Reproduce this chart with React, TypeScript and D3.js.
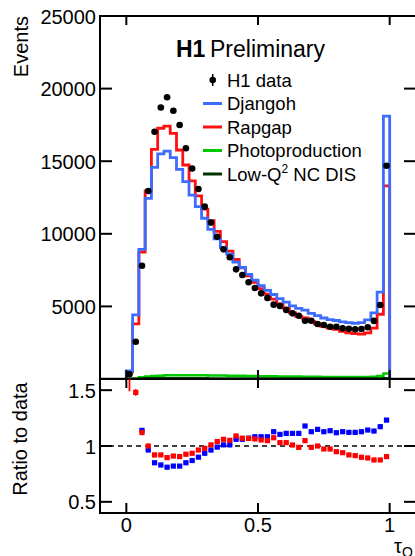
import React from "react";
import * as d3 from "d3";

// 42 bins in tau_Q from 0 to 1
const dataEvents = [
  320, 2570, 7800, 12950, 17030, 18700, 19400, 18470, 17490, 15890, 14500, 13090, 11870, 10770,
  9800, 8930, 8380, 7550, 7160, 6660, 6270, 5900, 5580, 5120, 5030, 4750, 4520, 4360,
  4010, 4010, 3790, 3720, 3600, 3600, 3490, 3460, 3420, 3440, 3560, 4000, 5100, 14690,
];

const djangoh = [
  550, 4410, 8930, 12440, 14580, 15500, 15700, 15240, 14440, 13590, 12670, 11870, 11070, 10300,
  9650, 9050, 8600, 8050, 7680, 7200, 6800, 6430, 6100, 5820, 5540, 5300, 5030, 4860,
  4740, 4520, 4360, 4200, 4090, 4030, 3940, 3880, 3840, 3880, 4070, 4560, 5990, 18100,
];

const rapgap = [
  500, 3800, 8740, 12950, 15820, 17270, 17420, 16920, 15770, 14740, 13650, 12610, 11700, 10900,
  10170, 9460, 8800, 8230, 7660, 7110, 6660, 6220, 5850, 5500, 5180, 4890, 4560, 4310,
  4200, 3960, 3790, 3620, 3500, 3420, 3280, 3180, 3130, 3090, 3180, 3500, 4460, 13300,
];

const photoproduction = [
  0, 40, 120, 170, 200, 230, 250, 260, 260, 260, 260, 255, 250, 245,
  240, 235, 230, 225, 220, 210, 200, 195, 190, 185, 180, 175, 170, 165,
  160, 155, 150, 145, 140, 140, 135, 130, 130, 130, 135, 150, 200, 380,
];

const lowQ2 = [
  0, 20, 40, 50, 55, 55, 55, 50, 50, 50, 45, 45, 45, 40,
  40, 40, 40, 35, 35, 35, 35, 30, 30, 30, 30, 30, 30, 30,
  30, 30, 30, 30, 30, 30, 30, 30, 30, 30, 30, 35, 40, 60,
];

// ratio to data
const ratioDjangoh = [
  1.9, 1.72, 1.14, 0.964, 0.85, 0.83, 0.81, 0.82, 0.82, 0.85, 0.87, 0.9, 0.935, 0.964,
  0.99, 1.01, 1.01, 1.06, 1.06, 1.07, 1.083, 1.083, 1.083, 1.128, 1.104, 1.113, 1.113, 1.113,
  1.179, 1.128, 1.149, 1.128, 1.137, 1.119, 1.128, 1.122, 1.122, 1.128, 1.143, 1.134, 1.173, 1.232,
];

const ratioRapgap = [
  1.75, 1.48, 1.12, 1.0, 0.92, 0.92, 0.896, 0.91, 0.905, 0.926, 0.935, 0.964, 0.979, 1.01,
  1.04, 1.06, 1.05, 1.09, 1.07, 1.068, 1.063, 1.054, 1.048, 1.074, 1.03, 1.03, 1.009, 0.988,
  1.048, 0.988, 1.0, 0.973, 0.973, 0.949, 0.94, 0.92, 0.914, 0.899, 0.893, 0.875, 0.875, 0.905,
];
const ratioRapgapErr = [0.26, 0.03];

const yTicksMain = [5000, 10000, 15000, 20000, 25000];
const yTicksRatio = [0.5, 1, 1.5];
const yTickLabelsRatio = ["0.5", "1", "1.5"];
const xTicks = [0, 0.5, 1];
const xTickLabels = ["0", "0.5", "1"];

const legendItems = [
  { label: "Djangoh", color: "#3d6cff" },
  { label: "Rapgap", color: "#ff1010" },
  { label: "Photoproduction", color: "#00c800" },
  { label: "Low-Q", color: "#003300" },
];

const FONT = "'Liberation Sans', Arial, Helvetica, sans-serif";

export default function App() {
  const W = 415,
    H = 556;
  const nBins = dataEvents.length;
  const edges = d3.range(nBins + 1).map((i) => i / nBins);

  const x = d3.scaleLinear().domain([-0.1, 1.1]).range([100, 416]);
  const y = d3.scaleLinear().domain([0, 25000]).range([379, 16]);
  const yr = d3.scaleLinear().domain([0.4, 1.6]).range([513, 379]);

  const left = x.range()[0],
    right = x.range()[1];
  const mainTop = y.range()[1],
    mainBot = y.range()[0];
  const rTop = yr.range()[1],
    rBot = yr.range()[0];

  function stepPath(vals: number[], extend = false) {
    let p = `M${x(extend ? -0.1 : edges[0])},${y(0)}`;
    if (extend) p += `L${x(edges[0])},${y(0)}`;
    vals.forEach((v, i) => {
      p += `L${x(edges[i])},${y(v)}L${x(edges[i + 1])},${y(v)}`;
    });
    p += `L${x(edges[nBins])},${y(0)}`;
    if (extend) p += `L${x(1.1)},${y(0)}`;
    return p;
  }

  const centers = edges.slice(0, -1).map((e, i) => (e + edges[i + 1]) / 2);

  const ratioMarks = (vals: number[], color: string, light: string, key: string) =>
    vals.map((r, i) => (
      <g key={key + i}>
        <line
          x1={x(edges[i]) + 0.5}
          x2={x(edges[i + 1]) - 0.5}
          y1={yr(r)}
          y2={yr(r)}
          stroke={light}
          strokeWidth={2}
        />
        <rect x={x(centers[i]) - 2.6} y={yr(r) - 2.6} width={5.2} height={5.2} fill={color} />
      </g>
    ));

  const legendRows = [80, 103.5, 127, 150.5, 174];

  return (
    <svg
      width={W}
      height={H}
      style={{ position: "absolute", left: 0, top: 0, background: "#fff" }}
      fontFamily={FONT}
    >
      <defs>
        <clipPath id="clipMain">
          <rect x={left} y={mainTop} width={right - left} height={mainBot - mainTop} />
        </clipPath>
        <clipPath id="clipRatio">
          <rect x={left} y={rTop} width={right - left} height={rBot - rTop} />
        </clipPath>
      </defs>

      {/* main panel */}
      <g clipPath="url(#clipMain)">
        <path d={stepPath(photoproduction)} fill="none" stroke="#00c800" strokeWidth={2.5} />
        <path d={stepPath(rapgap)} fill="none" stroke="#ff1010" strokeWidth={2.8} />
        <path d={stepPath(djangoh)} fill="none" stroke="#3d6cff" strokeWidth={2.8} />
        <path d={stepPath(lowQ2, true)} fill="none" stroke="#003300" strokeWidth={2.5} />
        {dataEvents.map((v, i) => (
          <circle key={"d" + i} cx={x(centers[i])} cy={y(v)} r={3.3} fill="#000" />
        ))}
      </g>

      {/* main frame */}
      <g stroke="#000" strokeWidth={2} fill="none">
        <line x1={left} x2={left} y1={mainTop - 1} y2={rBot + 1} />
        <line x1={left} x2={right} y1={mainTop} y2={mainTop} />
        <line x1={left} x2={right} y1={mainBot} y2={mainBot} />
        <line x1={left} x2={right} y1={rBot} y2={rBot} />
        <line x1={right} x2={right} y1={mainTop} y2={rBot} />
        {yTicksMain.map((t) => (
          <g key={"ym" + t}>
            <line x1={left} x2={left + 12} y1={y(t)} y2={y(t)} />
            <line x1={right} x2={right - 12} y1={y(t)} y2={y(t)} />
          </g>
        ))}
        {yTicksRatio.map((t) => (
          <g key={"yr" + t}>
            <line x1={left} x2={left + 12} y1={yr(t)} y2={yr(t)} />
            <line x1={right} x2={right - 12} y1={yr(t)} y2={yr(t)} />
          </g>
        ))}
        {xTicks.map((t) => (
          <g key={"xt" + t}>
            <line x1={x(t)} x2={x(t)} y1={mainTop} y2={mainTop + 9} />
            <line x1={x(t)} x2={x(t)} y1={mainBot - 9} y2={mainBot + 9} />
            <line x1={x(t)} x2={x(t)} y1={rBot} y2={rBot - 10} />
          </g>
        ))}
      </g>

      {/* ratio panel */}
      <line
        x1={left}
        x2={right}
        y1={yr(1)}
        y2={yr(1)}
        stroke="#000"
        strokeWidth={1.4}
        strokeDasharray="5,4"
      />
      <g clipPath="url(#clipRatio)">
        {ratioMarks(ratioDjangoh, "#0000ff", "#8c8cff", "rb")}
        <line
          x1={x(centers[0])}
          x2={x(centers[0])}
          y1={yr(ratioRapgap[0] + ratioRapgapErr[0])}
          y2={yr(ratioRapgap[0] - ratioRapgapErr[0])}
          stroke="#ff0000"
          strokeWidth={1.8}
        />
        <line
          x1={x(centers[1])}
          x2={x(centers[1])}
          y1={yr(ratioRapgap[1] + ratioRapgapErr[1])}
          y2={yr(ratioRapgap[1] - ratioRapgapErr[1])}
          stroke="#ff0000"
          strokeWidth={1.5}
        />
        {ratioMarks(ratioRapgap, "#ff0000", "#ff8c8c", "rr")}
      </g>

      {/* tick labels */}
      <g fontSize={20} fill="#000">
        {yTicksMain.map((t) => (
          <text key={"lm" + t} x={96} y={y(t) + 7.5} textAnchor="end">
            {t}
          </text>
        ))}
        {yTicksRatio.map((t, i) => (
          <text key={"lr" + t} x={96} y={yr(t) + 7.5} textAnchor="end">
            {yTickLabelsRatio[i]}
          </text>
        ))}
        {xTicks.map((t, i) => (
          <text key={"lx" + t} x={x(t)} y={532} textAnchor="middle">
            {xTickLabels[i]}
          </text>
        ))}
        <text transform={`translate(28,${mainTop}) rotate(-90)`} textAnchor="end">
          Events
        </text>
        <text transform={`translate(27,${(rTop + rBot) / 2 - 7}) rotate(-90)`} textAnchor="middle">
          Ratio to data
        </text>
        <text x={394} y={553}>
          τ<tspan fontSize={14} dy={4}>Q</tspan>
        </text>
      </g>

      {/* title */}
      <text x={176} y={57} fontSize={23} fill="#000">
        <tspan fontWeight="bold">H1</tspan>
        <tspan x={210}>Preliminary</tspan>
      </text>

      {/* legend */}
      <g fontSize={18.5} fill="#000">
        <line x1={212.7} x2={212.7} y1={legendRows[0] - 6} y2={legendRows[0] + 6} stroke="#000" strokeWidth={1.5} />
        <circle cx={212.7} cy={legendRows[0]} r={3.3} fill="#000" />
        <text x={227} y={legendRows[0] + 6.5}>H1 data</text>
        {legendItems.map((it, i) => (
          <g key={it.label}>
            <line
              x1={203}
              x2={222}
              y1={legendRows[i + 1]}
              y2={legendRows[i + 1]}
              stroke={it.color}
              strokeWidth={3}
            />
            <text x={227} y={legendRows[i + 1] + 6.5}>
              {it.label}
              {i === 3 ? (
                <>
                  <tspan fontSize={12} dy={-8}>
                    2
                  </tspan>
                  <tspan dy={8}> NC DIS</tspan>
                </>
              ) : null}
            </text>
          </g>
        ))}
      </g>
    </svg>
  );
}
